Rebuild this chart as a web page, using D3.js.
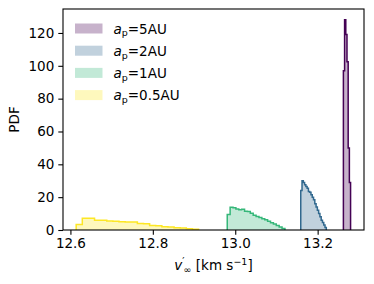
<!DOCTYPE html>
<html>
<head>
<meta charset="utf-8">
<script src="https://cdn.jsdelivr.net/npm/d3@7"></script>
<style>
  body { margin: 0; background: #fff; }
  svg { display: block; font-family: "DejaVu Sans", sans-serif; }
</style>
</head>
<body>
<div id="chart"></div>
<script>
// histogram data (PDF per bin)
const labels = ["5AU", "2AU", "1AU", "0.5AU"];
const binStart = [13.2625, 13.159, 12.9806, 12.614];
const binWidth = [0.0029, 0.0031, 0.007, 0.01485];
const pdf5 = [97, 128, 119, 102.5, 50, 29];
const pdf2 = [24, 30, 29, 27.5, 26.5, 25.5, 23.5, 23, 21.5, 20, 18.5, 16, 14, 12, 10, 8, 6, 4.5, 3, 1.5];
const pdf1 = [9.5, 13.8, 13.6, 12.8, 12.3, 12.6, 11.4, 11.2, 10.2, 9.0, 8.2, 7.6, 6.9, 6.2, 5.4, 4.4, 3.6, 2.8, 1.8, 0.9];
const pdf05 = [3.4, 7.1, 7.1, 6.0, 5.9, 5.5, 5.3, 5.0, 4.9, 4.8, 3.9, 3.8, 2.8, 2.6, 2.0, 1.8, 1.3, 1.2, 0.8, 0.5];
const pdfs = [pdf5, pdf2, pdf1, pdf05];
const xTicks = [12.6, 12.8, 13.0, 13.2];
const yTicks = [0, 20, 40, 60, 80, 100, 120];

const colors = ["#440154", "#31688e", "#35b779", "#fde725"];
const fs = 13.5;

const W = 374, H = 284;
const margin = { top: 9, right: 10, bottom: 54, left: 63 };
const width = W - margin.left - margin.right;
const height = H - margin.top - margin.bottom;

const svg = d3.select("#chart").append("svg")
  .attr("width", W).attr("height", H);

const g = svg.append("g")
  .attr("transform", "translate(" + margin.left + "," + margin.top + ")");

const x = d3.scaleLinear().domain([12.582, 13.3125]).range([0, width]);
const y = d3.scaleLinear().domain([0, 134.6]).range([height, 0]);

g.append("clipPath").attr("id", "clip")
  .append("rect").attr("width", width).attr("height", height);

// step outline points for each histogram
function stepPoints(i) {
  const pts = [[binStart[i], 0]];
  pdfs[i].forEach((v, k) => {
    const e0 = binStart[i] + k * binWidth[i];
    pts.push([e0, v], [e0 + binWidth[i], v]);
  });
  pts.push([binStart[i] + pdfs[i].length * binWidth[i], 0]);
  return pts;
}

const area = d3.area().x(d => x(d[0])).y0(y(0)).y1(d => y(d[1]));
const line = d3.line().x(d => x(d[0])).y(d => y(d[1]));

const plot = g.append("g").attr("clip-path", "url(#clip)");
[3, 2, 1, 0].forEach(i => {
  const pts = stepPoints(i);
  plot.append("path").attr("d", area(pts))
    .attr("fill", colors[i]).attr("fill-opacity", 0.3);
  plot.append("path").attr("d", line(pts))
    .attr("fill", "none").attr("stroke", colors[i]).attr("stroke-width", 1.5);
});

// axes
const xAxis = g.append("g").attr("transform", "translate(0," + height + ")")
  .call(d3.axisBottom(x).tickValues(xTicks).tickFormat(d3.format(".1f")).tickSizeOuter(0).tickSize(4.7).tickPadding(4));
const yAxis = g.append("g")
  .call(d3.axisLeft(y).tickValues(yTicks).tickSizeOuter(0).tickSize(4.7).tickPadding(4));
[xAxis, yAxis].forEach(a => {
  a.select(".domain").remove();
  a.selectAll("text").attr("font-size", fs).attr("font-family", "DejaVu Sans").attr("fill", "#000");
  a.selectAll("line").attr("stroke", "#000").attr("stroke-width", 1.1);
});

g.append("rect").attr("width", width).attr("height", height)
  .attr("fill", "none").attr("stroke", "#000").attr("stroke-width", 1.1);

// legend
const legend = g.append("g").attr("transform", "translate(12,0)");
labels.forEach((lab, i) => {
  const cy = 19.5 + i * 22.2;
  legend.append("rect").attr("x", 0).attr("y", cy - 5).attr("width", 27.5).attr("height", 10)
    .attr("fill", colors[i]).attr("fill-opacity", 0.3);
  const t = legend.append("text").attr("x", 38.5).attr("y", cy + 5).attr("font-size", fs);
  t.append("tspan").attr("font-style", "italic").text("a");
  t.append("tspan").attr("font-size", 9.5).attr("dy", 2.8).text("p");
  t.append("tspan").attr("dy", -2.8).text("=" + lab);
});

// axis labels
const xl = svg.append("text").attr("x", margin.left + width / 2).attr("y", 270)
  .attr("text-anchor", "middle").attr("font-size", fs);
xl.append("tspan").attr("font-style", "italic").text("v");
xl.append("tspan").attr("font-size", 10).attr("dy", -5).text("\u2032");
xl.append("tspan").attr("font-size", 9.5).attr("dx", -1).attr("dy", 8).text("\u221e");
xl.append("tspan").attr("dy", -3).text(" [km s");
xl.append("tspan").attr("font-size", 9.5).attr("dy", -5.5).text("\u22121");
xl.append("tspan").attr("dy", 5.5).text("]");

svg.append("text")
  .attr("transform", "translate(19," + (margin.top + height / 2) + ") rotate(-90)")
  .attr("text-anchor", "middle").attr("font-size", fs).text("PDF");
</script>
</body>
</html>
